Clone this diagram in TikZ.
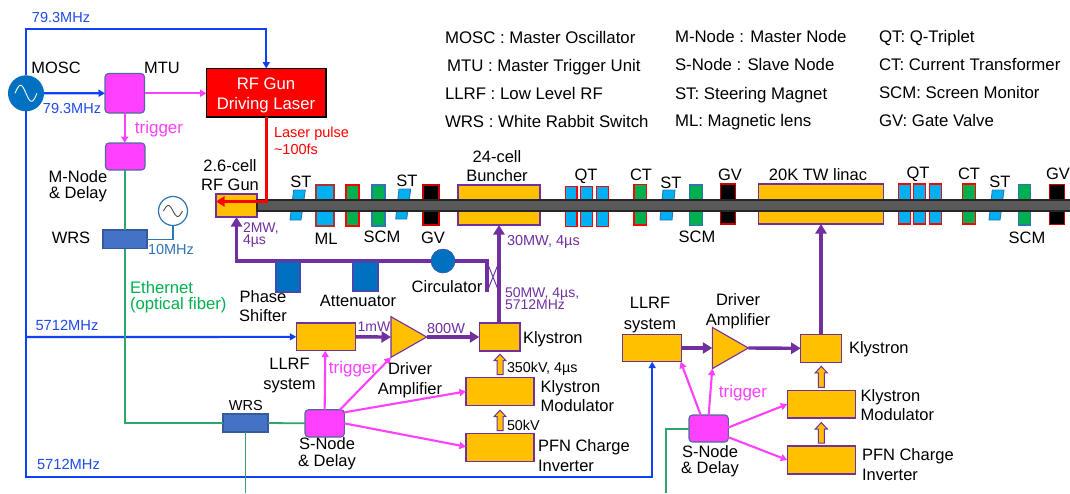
\documentclass[tikz,border=0pt]{standalone}
\usepackage{fontspec}
\setmainfont{Liberation Sans}
\usetikzlibrary{arrows.meta,shapes.geometric}
\definecolor{wblue}{HTML}{0F40F5}
\definecolor{lblue}{HTML}{1F4BE8}
\definecolor{pink}{HTML}{FF40FF}
\definecolor{purp}{HTML}{7030A0}
\definecolor{gold}{HTML}{FFC000}
\definecolor{wgreen}{HTML}{2EA56B}
\definecolor{tgreen}{HTML}{00B050}
\definecolor{sky}{HTML}{00B0F0}
\definecolor{midblue}{HTML}{2E75B6}
\definecolor{sblue}{HTML}{4472C4}
\definecolor{dblue}{HTML}{0070C0}
\definecolor{nodeedge}{HTML}{4F6A9A}
\tikzset{
  x=1pt,y=-1pt,
  bx/.style={inner sep=0pt,outer sep=0pt,draw=purp,line width=1.1pt,fill=gold},
  magbox/.style={bx,draw=nodeedge,fill=pink,rounded corners=3.5pt},
  qbox/.style={bx,draw=red,fill=sky},
  mlbox/.style={bx,draw=red!60!black!80,fill=sky},
  grbox/.style={bx,draw=red,fill=tgreen},
  scmbox/.style={bx,draw=midblue,fill=tgreen},
  gvbox/.style={bx,draw=red!80!black,fill=black},
  stpoly/.style={draw=midblue,line width=0.9pt,fill=sky},
  wrsbox/.style={bx,draw=sblue!80!black,fill=sblue},
  ampbox/.style={bx,isosceles triangle,isosceles triangle stretches,anchor=apex},
  dkblue/.style={bx,draw=purp!60!dblue,fill=dblue},
  holpoly/.style={draw=purp,line width=1pt,fill=gold,line join=miter},
  wireb/.style={wblue,line width=2.2pt},
  wirebarrow/.style={wireb,-{Triangle[length=6.5pt,width=7pt]}},
  wirep/.style={purp,line width=3.4pt},
  wireparrow/.style={wirep,-{Triangle[length=9.5pt,width=11pt]}},
  wirepk/.style={pink,line width=2.1pt,-{Triangle[length=6.5pt,width=7pt]}},
  wireg/.style={wgreen,line width=1.8pt},
  tx/.style={inner sep=0pt,outer sep=0pt,align=center},
  lf/.style={tx,anchor=west,align=left},
}
% \bxn{style}{name}{x1}{y1}{x2}{y2}
\newcommand\bxn[6]{\node[#1,minimum width=#5pt-#3pt,minimum height=#6pt-#4pt] (#2) at ({(#3+#5)/2},{(#4+#6)/2}) {};}
% \T{name}{opts}{fs}{x}{yc}{text}
\newcommand\T[6]{\pgfmathsetmacro\yy{#5+0.36*#3}\node[tx,font=\fontsize{#3}{#3}\selectfont,#2] (#1) at (#4,\yy) {\smash{#6}};}
% \TT{name}{opts}{fs}{x}{yc1}{yc2}{line1}{line2}
\newcommand\TT[8]{\pgfmathsetmacro\yy{(#5+#6)/2+0.36*#3}\pgfmathsetmacro\LL{#6-#5}\node[tx,font=\fontsize{#3}{\LL}\selectfont,#2] (#1) at (#4,\yy) {\smash{#7}\\\smash{#8}};}
% hollow upward arrow: \holup{start anchor}{total length}
\newcommand\holup[2]{\draw[holpoly] ([xshift=-3pt,yshift=3pt]#1) -- ++(0,{-#2+6.5}) -- ++(-3,0) -- ++(6,-6.5) -- ++(6,6.5) -- ++(-3,0) -- ++(0,{#2-6.5}) -- cycle;}
\begin{document}
\begin{tikzpicture}
\useasboundingbox (0,0) rectangle (1070,493);
\fill[white] (0,0) rectangle (1070,493);
% free corners
\coordinate (tl) at (26,29);
\coordinate (bl) at (26,477);
\coordinate (t1) at (26,337);
\coordinate (crossL) at (487,292);
\coordinate (crossLt) at (487,261);
\coordinate (crossR) at (499,292);
\coordinate (crossRt) at (499,262);
\coordinate (crossLb) at (487,262);
\coordinate (gturn) at (236.5,261);
\coordinate (gn1) at (125,423);
\coordinate (gn2) at (665.7,428.7);
\coordinate (gout1) at (245.5,493);
\coordinate (gout2) at (665.7,493);
% boxes
\node[circle,fill=dblue,inner sep=0pt,minimum size=36pt,outer sep=0pt] (mosc) at (26,93.3) {};
\bxn{magbox}{mtu}{105}{73.5}{144.5}{113}
\bxn{bx,draw=black,fill=red}{laser}{206.5}{68.5}{326}{117}
\bxn{magbox}{mnode}{105.5}{143}{145}{170}
\bxn{wrsbox}{wrsa}{103}{230}{147}{248.5}
\node[circle,draw=midblue,line width=1.2pt,fill=white,inner sep=0pt,minimum size=29pt] (osc) at (173,211) {};
\bxn{wrsbox}{wrsb}{223}{414}{268}{432}
\bxn{magbox}{snodea}{305}{409.7}{344.3}{437}
\bxn{magbox}{snodeb}{689}{415}{728.3}{442}
\bxn{bx}{llrfa}{296.3}{323}{355.7}{350.7}
\bxn{bx}{klya}{479.3}{323}{520}{351}
\bxn{bx}{moda}{466}{377.7}{534}{405.7}
\bxn{bx}{pfna}{466}{433.7}{534}{461.7}
\bxn{bx}{llrfb}{622.7}{334.3}{681.7}{361.7}
\bxn{bx}{klyb}{800.7}{334.3}{841.3}{362.3}
\bxn{bx}{modb}{787.3}{390.3}{855.3}{418}
\bxn{bx}{pfnb}{787.3}{446}{855.3}{474}
\node[ampbox,minimum width=40.6pt,minimum height=35.7pt] (ampa) at (426.7,337) {};
\node[ampbox,minimum width=41.3pt,minimum height=36pt] (ampb) at (748.3,348) {};
% beamline elements
\bxn{bx}{gun}{216}{194}{257}{217}
\draw[stpoly] (293.7,190)--(305.3,190)--(301,220)--(290,220)--cycle;
\bxn{mlbox}{ml}{316}{185}{334}{226}
\bxn{grbox}{gra}{346}{185}{359}{226}
\bxn{scmbox}{scma}{372}{185}{385}{226}
\draw[stpoly] (399,189)--(410.7,189)--(406.7,219)--(395.7,219)--cycle;
\bxn{gvbox}{gva}{423}{185}{439}{225}
\bxn{bx}{bunch}{458}{185}{540}{225}
\bxn{qbox}{qa}{565.3}{186.3}{577}{226.3}
\bxn{qbox}{qb}{580.7}{186.3}{592.3}{226.3}
\bxn{qbox}{qc}{596.3}{186.3}{608.3}{226.3}
\bxn{grbox}{cta}{634}{184.3}{646.7}{225}
\draw[stpoly] (663,190)--(675,190)--(672,220)--(660,220)--cycle;
\bxn{scmbox}{scmb}{689.7}{185}{702.3}{225.7}
\bxn{gvbox}{gvb}{720.7}{184}{735.7}{224}
\bxn{bx}{linac}{758.7}{184}{883.3}{224}
\bxn{qbox}{qd}{898.3}{184}{910.3}{224}
\bxn{qbox}{qe}{913.3}{184}{925.7}{224}
\bxn{qbox}{qf}{929.3}{184}{941.7}{224}
\bxn{grbox}{ctb}{962.7}{184}{975.3}{224}
\draw[stpoly] (992.3,190)--(1004,190)--(1000,220)--(989,220)--cycle;
\bxn{scmbox}{scmc}{1018.3}{184.3}{1030.7}{225}
\bxn{gvbox}{gvc}{1049.3}{184.3}{1064.7}{224.3}
\bxn{bx,draw=black!85,fill=black!65}{beam}{257}{200}{1072}{211}
% sine waves
\draw[white,line width=0.9pt] plot[domain=-1:1,samples=30,smooth] ({26+11*\x},{93.3+8*sin(\x*180)});
\draw[black!70,line width=0.9pt] plot[domain=-1:1,samples=30,smooth] ({173+9.5*\x},{211+5.5*sin(\x*180)});
% blue wires
\draw[wirebarrow] (mosc.north) -- (tl) -| (laser.north);
\draw[wirebarrow] (mosc.east) -- (mtu.west);
\draw[wireb] (mosc.south) -- (t1);
\draw[wirebarrow] (t1) -- (llrfa.west);
\draw[wirebarrow] (t1) -- (bl) -| (llrfb.south);
% green wires
\draw[wireg] (mnode.south -| wrsa.north) -- (wrsa.north);
\draw[wireg] (wrsa.south) -- (wrsa.south |- gn1) -- (wrsb.west);
\draw[wireg] (wrsb.east) -- (snodea.west);
\draw[wireg] (wrsb.south) -- (gout1);
\draw[wireg] (snodeb.west |- gn2) -- (gn2) -- (gout2);
\draw[midblue,line width=1.4pt] (osc.south) |- (wrsa.east);
% pink wires
\draw[wirepk] (mtu.east) -- (laser.west |- mtu.east);
\draw[wirepk] (mtu.south) -- (mnode.north -| mtu.south);
\draw[wirepk] (snodea.north) -- ([xshift=-0.7pt]llrfa.south);
\draw[wirepk] ([xshift=15.3pt]snodea.north) -- (ampa.right corner);
\draw[wirepk] ([yshift=11pt]snodea.east) -- ([yshift=0.3pt]moda.west);
\draw[wirepk] (snodea.east) -- ([yshift=1pt]pfna.west);
\draw[wirepk] ([xshift=-8pt]snodeb.north) -- ([xshift=-1pt]llrfb.south east);
\draw[wirepk] (snodeb.north) -- (ampb.right corner);
\draw[wirepk] ([yshift=1pt]snodeb.east) -- (modb.west);
\draw[wirepk] ([yshift=-8.7pt]snodeb.east) -- (pfnb.west);
% purple wires
\draw[wireparrow] (llrfa.east) -- (ampa.lower side);
\draw[wireparrow] (ampa.apex) -- (klya.west);
\draw[wireparrow] (llrfb.east) -- (ampb.lower side);
\draw[wireparrow] (ampb.apex) -- (klyb.west);
\draw[wireparrow] (klyb.north) -- (linac.south -| klyb.north);
\draw[wireparrow] (klya.north -| crossR) -- (bunch.south -| crossR);
\draw[wireparrow,line join=miter] (crossL) -- (crossLt) -- (gturn) -- (gun.south);
\draw[purp,line width=1pt] (crossL) -- (crossRt) (crossR) -- (crossLb);
% blocks on waveguide
\bxn{dkblue}{phase}{276}{262}{300}{292}
\bxn{dkblue}{atten}{353}{262}{378}{291}
\node[circle,fill=dblue,draw=purp!60!dblue,line width=0.5pt,inner sep=0pt,minimum size=24pt] (circ) at (443,261) {};
% hollow arrows
\holup{moda.north}{20.5}
\holup{pfna.north}{20.5}
\holup{modb.north}{21}
\holup{pfnb.north}{20.5}
% red laser
\draw[red,line width=3.4pt,-{Triangle[length=8.5pt,width=10pt]}] (laser.south) |- ([yshift=4pt]gun.west);
% legend
\T{la}{lf}{16.8}{445}{37}{MOSC : Master Oscillator}
\T{lb}{lf}{16.8}{447}{65}{MTU : Master Trigger Unit}
\T{lc}{lf}{16.8}{445}{93}{LLRF : Low Level RF}
\T{ld}{lf}{16.8}{445}{121}{WRS : White Rabbit Switch}
\T{le}{lf}{16.8}{675}{36}{M-Node : Master Node}
\T{lg}{lf}{16.8}{675}{64}{S-Node : Slave Node}
\T{lh}{lf}{16.8}{675}{93}{ST: Steering Magnet}
\T{li}{lf}{16.8}{675}{120}{ML: Magnetic lens}
\T{lj}{lf}{16.8}{879}{36}{QT: Q-Triplet}
\T{lk}{lf}{16.8}{879}{64}{CT: Current Transformer}
\T{ll}{lf}{16.8}{879}{92}{SCM: Screen Monitor}
\T{lm}{lf}{16.8}{879}{120}{GV: Gate Valve}
% upper-left labels
\T{ta}{text=lblue}{14.5}{61}{17}{79.3MHz}
\T{tb}{text=lblue}{14.5}{72}{108}{79.3MHz}
\T{tc}{}{16.4}{56}{68}{MOSC}
\T{td}{}{16.4}{162}{68}{MTU}
\T{te}{text=pink}{17}{159}{127}{trigger}
\TT{tf}{text=white}{16.7}{266}{83}{103}{RF Gun}{Driving Laser}
\TT{tg}{lf,text=red}{14.5}{274}{132}{149}{Laser pulse}{\textasciitilde 100fs}
\TT{th}{}{16.5}{230}{166}{185}{2.6-cell}{RF Gun}
\TT{ti}{}{16.5}{78}{177}{193}{M-Node}{\& Delay}
\T{tj}{}{16.5}{71}{238}{WRS}
\T{tk}{text=midblue}{14.5}{171}{249}{10MHz}
\TT{tl2}{lf,text=tgreen}{16.7}{130}{287}{303}{Ethernet}{(optical fiber)}
\TT{tm}{}{16.5}{263}{297}{316}{Phase}{Shifter}
\T{tn}{}{16.5}{358}{301}{Attenuator}
\T{to}{}{16.5}{447}{287}{Circulator}
% beamline labels
\T{ba}{}{16.5}{301}{182}{ST}
\T{bb}{}{16.5}{326}{239}{ML}
\T{bc}{}{16.5}{382}{237}{SCM}
\T{bd}{}{16.5}{407}{181}{ST}
\T{be}{}{16.5}{433}{237.5}{GV}
\TT{bf}{}{16.5}{497}{157}{176}{24-cell}{Buncher}
\TT{bg}{lf,text=purp}{14}{243}{227}{239}{2MW,}{4µs}
\T{bh}{lf,text=purp}{14.5}{507}{240}{30MW, 4µs}
\TT{bi}{lf,text=purp}{14}{505}{292.5}{304.5}{50MW, 4µs,}{5712MHz}
\T{bj}{}{16.5}{586}{175}{QT}
\T{bk}{}{16.5}{641}{174.5}{CT}
\T{bl2}{}{16.5}{671}{183}{ST}
\T{bm}{}{16.5}{730}{175}{GV}
\T{bn}{}{16.5}{818}{175}{20K TW linac}
\T{bo}{}{16.5}{697}{237}{SCM}
\T{bp}{}{16.5}{918}{173}{QT}
\T{bq}{}{16.5}{969}{174}{CT}
\T{br}{}{16.5}{1000}{182}{ST}
\T{bs}{}{16.5}{1058}{174}{GV}
\T{bt}{}{16.5}{1027}{237.5}{SCM}
% lower-left labels
\T{ca}{text=lblue}{14.7}{67}{325}{5712MHz}
\T{cb}{text=lblue}{14.7}{68.5}{464}{5712MHz}
\TT{cc}{}{16.5}{289.5}{364}{384}{LLRF}{system}
\T{cd}{}{14.5}{245.8}{405}{WRS}
\TT{ce}{}{16.5}{327}{444}{461}{S-Node}{\& Delay}
\T{cf}{text=purp}{14}{374}{326}{1mW}
\T{cg}{text=purp}{14.5}{446}{328}{800W}
\T{ch}{text=pink}{17}{353}{367}{trigger}
\TT{ci}{}{16.5}{410}{369}{389}{Driver}{Amplifier}
\T{cj}{lf}{16.5}{523}{338}{Klystron}
\T{ck}{lf}{14.3}{507}{367}{350kV, 4µs}
\T{cl}{lf}{14.3}{507}{425}{50kV}
\TT{cm}{lf}{16.5}{540.7}{387}{406}{Klystron}{Modulator}
\TT{cn}{lf}{16.5}{538}{446}{466}{PFN Charge}{Inverter}
% lower-right labels
\TT{da}{}{16.5}{650}{303}{324}{LLRF}{system}
\TT{db}{}{16.5}{738}{300}{320}{Driver}{Amplifier}
\T{dc}{lf}{16.5}{849}{348}{Klystron}
\T{dd}{text=pink}{17}{743}{391}{trigger}
\TT{de}{lf}{16.5}{860.7}{396}{415}{Klystron}{Modulator}
\TT{df}{lf}{16.5}{862}{455}{475}{PFN Charge}{Inverter}
\TT{dg}{}{16.5}{710}{452}{468}{S-Node}{\& Delay}
\end{tikzpicture}
\end{document}
